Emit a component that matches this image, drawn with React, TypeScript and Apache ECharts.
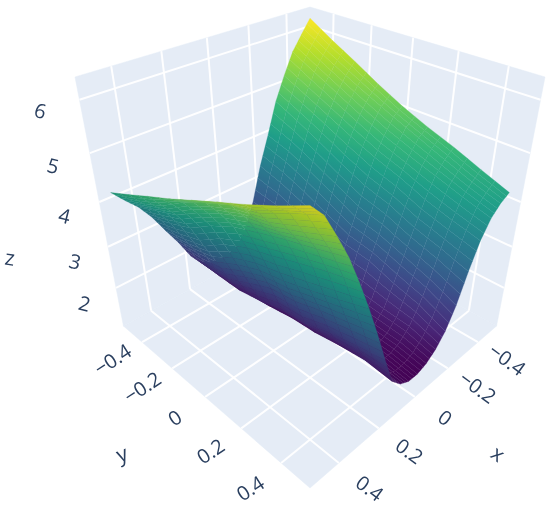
import React, { useEffect, useRef } from "react";
import * as echarts from "echarts";

const xGrid = [-0.5,-0.45,-0.4,-0.35,-0.3,-0.25,-0.2,-0.15,-0.1,-0.05,0,0.05,0.1,0.15,0.2,0.25,0.3,0.35,0.4,0.45,0.5];
const yGrid = [-0.5,-0.375,-0.25,-0.125,0,0.125,0.25,0.375,0.5];
const zRowA = [6.24,5.95,5.65,5.2,4.7,4.0,3.35,2.55,1.95,1.62,1.54,1.51,1.55,1.69,2.0,2.47,2.88,3.31,3.66,3.92,4.2];
const zRowB = [5.93,5.68,5.38,4.96,4.47,3.85,3.2,2.5,1.87,1.57,1.45,1.43,1.49,1.66,2.02,2.53,2.99,3.47,3.86,4.13,4.43];
const zRowC = [5.65,5.42,5.12,4.72,4.22,3.62,3.0,2.3,1.74,1.46,1.37,1.36,1.44,1.65,2.08,2.64,3.14,3.67,4.07,4.37,4.67];
const zRowD = [5.35,5.17,4.86,4.47,3.95,3.37,2.76,2.03,1.58,1.37,1.33,1.34,1.45,1.75,2.34,2.92,3.50,4.02,4.40,4.72,4.9];
const zRowE = [5.08,4.93,4.62,4.24,3.71,3.10,2.55,1.88,1.52,1.39,1.35,1.39,1.54,1.91,2.57,3.13,3.75,4.30,4.68,4.99,5.15];
const zRowF = [4.85,4.71,4.42,4.06,3.55,2.98,2.46,1.85,1.53,1.41,1.37,1.41,1.57,1.95,2.64,3.24,3.91,4.49,4.90,5.23,5.4];
const zRowG = [4.65,4.48,4.24,3.83,3.32,2.78,2.26,1.77,1.53,1.42,1.39,1.45,1.66,2.13,2.81,3.40,4.10,4.67,5.03,5.38,5.64];
const zRowH = [4.42,4.26,4.05,3.66,3.15,2.58,2.1,1.72,1.49,1.38,1.36,1.44,1.72,2.25,2.94,3.58,4.27,4.83,5.24,5.67,5.9];
const zRowI = [4.2,4.08,3.88,3.52,2.96,2.31,1.84,1.55,1.37,1.28,1.28,1.40,1.65,2.34,3.08,3.77,4.41,5.0,5.48,5.93,6.19];
const zRows = [zRowA,zRowB,zRowC,zRowD,zRowE,zRowF,zRowG,zRowH,zRowI];

const xyTicks = [-0.4,-0.2,0,0.2,0.4];
const xyTickLabels = ["\u22120.4","\u22120.2","0","0.2","0.4"];
const zTicks = [2,3,4,5,6];
const viridis = ["#440154","#482878","#3e4989","#31688e","#26828e","#1f9e89","#35b779","#6ece58","#b5de2b","#fde725"];

const XY_HALF = 0.533, Z_MID = 3.7, Z_HALF = 2.7;
const C_MIN = 1.28, C_MAX = 6.24;
const SUB_X = 3, SUB_Y = 2;
const INK = "#2a3f5f", WALL = "#e5ecf6";
const FONT = '"Open Sans", sans-serif';

const W = (x: number, y: number, z: number) => 1 - 0.1234 * (x + y) - 0.115 * z;
const project = (x: number, y: number, z: number) => {
  const w = W(x, y, z);
  return [310 + (104 * (y - x)) / w, (30.1 * (x + y) - 147.7 * z + 215.8) / w];
};
const nx = (v: number) => v / XY_HALF;
const nz = (v: number) => (v - Z_MID) / Z_HALF;

const hex = (h: string) => [1, 3, 5].map((i) => parseInt(h.slice(i, i + 2), 16));
const colorAt = (z: number, shade: number) => {
  const t = (z - C_MIN) / (C_MAX - C_MIN);
  const c = Math.min(1, Math.max(0, t)) * (viridis.length - 1);
  const i = Math.min(viridis.length - 2, Math.floor(c));
  const a = hex(viridis[i]), b = hex(viridis[i + 1]);
  const f = c - i;
  return `rgb(${a.map((v, k) => Math.round((v + (b[k] - v) * f) * shade)).join(",")})`;
};
// surface value at fractional grid position, for shading inside a table cell
const sample = (u: number, v: number) => {
  const i = Math.min(xGrid.length - 2, Math.floor(u));
  const j = Math.min(yGrid.length - 2, Math.floor(v));
  const fu = u - i, fv = v - j;
  const z = (1 - fv) * ((1 - fu) * zRows[j][i] + fu * zRows[j][i + 1]) + fv * ((1 - fu) * zRows[j + 1][i] + fu * zRows[j + 1][i + 1]);
  const g = (arr: number[], p: number, fp: number) => arr[p] + (arr[p + 1] - arr[p]) * fp;
  return [nx(g(xGrid, i, fu)), nx(g(yGrid, j, fv)), nz(z), z];
};
const shadeOf = (xn: number) => 1 - 0.12 * Math.min(1, Math.max(0, xn / 0.2));

const surfaceCells: number[][] = [];
for (let i = 0; i < (xGrid.length - 1) * SUB_X; i++) {
  for (let j = 0; j < (yGrid.length - 1) * SUB_Y; j++) {
    const p = sample((i + 0.5) / SUB_X, (j + 0.5) / SUB_Y);
    surfaceCells.push([i / SUB_X, j / SUB_Y, W(p[0], p[1], p[2])]);
  }
}
surfaceCells.sort((a, b) => b[2] - a[2]);

const walls = [
  [[-1,-1,-1],[1,-1,-1],[1,1,-1],[-1,1,-1]],
  [[-1,-1,-1],[-1,1,-1],[-1,1,1],[-1,-1,1]],
  [[-1,-1,-1],[1,-1,-1],[1,-1,1],[-1,-1,1]],
];
const gridLines: number[][] = [];
xyTicks.forEach((t) => {
  const n = nx(t);
  gridLines.push([n,-1,-1,n,1,-1],[-1,n,-1,1,n,-1],[n,-1,-1,n,-1,1],[-1,n,-1,-1,n,1]);
});
zTicks.forEach((t) => {
  const n = nz(t);
  gridLines.push([-1,-1,n,1,-1,n],[-1,-1,n,-1,1,n]);
});

type Lbl = { text: string; p: number[]; rot: number; size: number };
const labels: Lbl[] = [
  ...xyTicks.map((t, i) => ({ text: xyTickLabels[i], p: [1.25, nx(t), -1], rot: 33, size: 20 })),
  ...xyTicks.map((t, i) => ({ text: xyTickLabels[i], p: [nx(t), 1.25, -1], rot: -36, size: 20 })),
  ...zTicks.map((t) => ({ text: String(t), p: [1.18, -1.18, nz(t) * 1.05 - 0.115], rot: -14, size: 20 })),
  { text: "x", p: [0, 1.65, -1], rot: -36, size: 21 },
  { text: "y", p: [1.65, 0, -1], rot: 20, size: 21 },
  { text: "z", p: [1.5, -1.5, -0.35], rot: -8, size: 21 },
];

export default function App() {
  const ref = useRef<HTMLDivElement>(null);
  useEffect(() => {
    document.body.style.margin = "0";
    const chart = echarts.init(ref.current!, undefined, { renderer: "svg" });
    const coord3 = (api: any, x: number, y: number, z: number) => api.coord(project(x, y, z));
    chart.setOption({
      animation: false,
      backgroundColor: "#ffffff",
      grid: { left: 0, top: 0, width: 550, height: 511 },
      xAxis: { type: "value", min: 0, max: 550, show: false },
      yAxis: { type: "value", min: 0, max: 511, inverse: true, show: false },
      tooltip: { show: false },
      series: [
        {
          type: "custom", silent: true, clip: false, coordinateSystem: "cartesian2d",
          data: walls.map((_, i) => [i]),
          renderItem: (_p: any, api: any) => ({
            type: "polygon",
            shape: { points: walls[api.value(0)].map((c) => coord3(api, c[0], c[1], c[2])) },
            style: { fill: WALL, stroke: WALL, lineWidth: 0.5 },
          }),
        },
        {
          type: "custom", silent: true, clip: false, coordinateSystem: "cartesian2d",
          data: gridLines.map((_, i) => [i]),
          renderItem: (_p: any, api: any) => {
            const l = gridLines[api.value(0)];
            const a = coord3(api, l[0], l[1], l[2]);
            const b = coord3(api, l[3], l[4], l[5]);
            return { type: "line", shape: { x1: a[0], y1: a[1], x2: b[0], y2: b[1] }, style: { stroke: "#ffffff", lineWidth: 2, opacity: 0.95 } };
          },
        },
        {
          type: "custom", silent: true, clip: false, coordinateSystem: "cartesian2d",
          data: surfaceCells,
          renderItem: (_p: any, api: any) => {
            const u = api.value(0), v = api.value(1);
            const du = 1 / SUB_X, dv = 1 / SUB_Y;
            const ss = [[u, v], [u + du, v], [u + du, v + dv], [u, v + dv]].map((q) => sample(q[0], q[1]));
            const pts = ss.map((s) => coord3(api, s[0], s[1], s[2]));
            const zs = ss.map((s) => s[3]);
            const mid = sample(u + du / 2, v + dv / 2);
            const shade = shadeOf(mid[0]);
            // screen-space direction in which the value grows across this quad
            const ax = pts[1][0] - pts[0][0], ay = pts[1][1] - pts[0][1];
            const bx = pts[3][0] - pts[0][0], by = pts[3][1] - pts[0][1];
            const dzu = (zs[1] + zs[2] - zs[0] - zs[3]) / 2, dzv = (zs[3] + zs[2] - zs[0] - zs[1]) / 2;
            const ax2 = (pts[1][0] + pts[2][0] - pts[0][0] - pts[3][0]) / 2, ay2 = (pts[1][1] + pts[2][1] - pts[0][1] - pts[3][1]) / 2;
            const bx2 = (pts[3][0] + pts[2][0] - pts[0][0] - pts[1][0]) / 2, by2 = (pts[3][1] + pts[2][1] - pts[0][1] - pts[1][1]) / 2;
            const det = ax2 * by2 - ay2 * bx2;
            let fill: any = colorAt(mid[3], shade);
            if (Math.abs(det) > 0.01) {
              const gx = (dzu * by2 - dzv * ay2) / det;
              const gy = (dzv * ax2 - dzu * bx2) / det;
              const g2 = gx * gx + gy * gy;
              if (g2 > 1e-8 && g2 < 4) {
                const cx = pts.reduce((s, p) => s + p[0], 0) / 4, cy = pts.reduce((s, p) => s + p[1], 0) / 4;
                const dz = 0.06;
                const k = dz / g2;
                fill = new echarts.graphic.LinearGradient(
                  cx - gx * k, cy - gy * k, cx + gx * k, cy + gy * k,
                  [{ offset: 0, color: colorAt(mid[3] - dz, shade) }, { offset: 1, color: colorAt(mid[3] + dz, shade) }],
                  true,
                );
              }
            }
            void ax; void ay; void bx; void by;
            return { type: "polygon", shape: { points: pts }, style: { fill, stroke: colorAt(mid[3], shade), lineWidth: 0.3 } };
          },
        },
        {
          type: "custom", silent: true, clip: false, coordinateSystem: "cartesian2d",
          data: labels.map((_, i) => [i]),
          renderItem: (_p: any, api: any) => {
            const l = labels[api.value(0)];
            const c = coord3(api, l.p[0], l.p[1], l.p[2]);
            return {
              type: "text", x: c[0], y: c[1], rotation: (l.rot * Math.PI) / 180,
              style: { text: l.text, x: 0, y: 0, align: "center", verticalAlign: "middle", fill: INK, font: `${l.size}px ${FONT}` },
            };
          },
        },
      ],
    });
    return () => chart.dispose();
  }, []);
  return <div ref={ref} style={{ position: "absolute", left: 0, top: 0, width: 550, height: 511, filter: "blur(0.5px)" }} />;
}
